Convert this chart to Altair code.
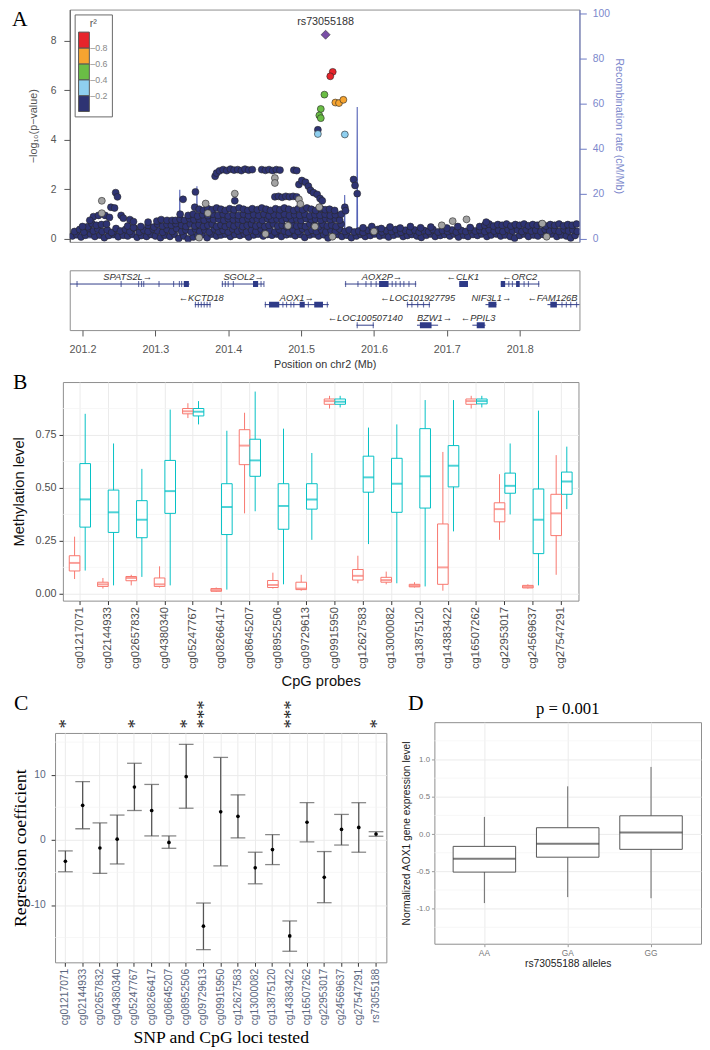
import altair as alt
import pandas as pd

SANS = "Liberation Sans"
SERIF = "Liberation Serif"

# ======================= Panel A : regional association =======================
navy_low = [(201.186,0.12),(201.192,0.18),(201.198,0.08),(201.204,0.15),(201.211,0.2),(201.217,0.1),(201.224,0.16),(201.230,0.05),(201.236,0.14),(201.243,0.19),(201.249,0.09),(201.256,0.15),(201.262,0.12),(201.268,0.2),(201.275,0.07),(201.281,0.14),(201.288,0.1),(201.294,0.18),(201.300,0.12),(201.307,0.05),(201.313,0.15),(201.320,0.1),(201.326,0.2),(201.332,0.02),(201.339,0.12),(201.345,0.0),(201.352,0.08),(201.358,0.15),(201.364,0.18),(201.371,0.05),(201.377,0.2),(201.384,0.12),(201.390,0.16),(201.396,0.2),(201.403,0.1),(201.409,0.18),(201.416,0.14),(201.422,0.2),(201.428,0.08),(201.435,0.16),(201.441,0.2),(201.448,0.12),(201.454,0.18),(201.460,0.15),(201.467,0.2),(201.473,0.1),(201.480,0.17),(201.486,0.2),(201.492,0.13),(201.499,0.18),(201.505,0.06),(201.512,0.16),(201.518,0.2),(201.524,0.12),(201.531,0.17),(201.537,0.04),(201.544,0.14),(201.550,0.18),(201.556,0.1),(201.563,0.15),(201.569,0.05),(201.576,0.12),(201.582,0.18),(201.588,0.1),(201.595,0.14),(201.601,0.2),(201.608,0.12),(201.614,0.16),(201.620,0.08),(201.627,0.15),(201.633,0.2),(201.640,0.1),(201.646,0.14),(201.652,0.18),(201.659,0.12),(201.665,0.06),(201.672,0.15),(201.678,0.2),(201.684,0.1),(201.691,0.14),(201.697,0.18),(201.704,0.12),(201.710,0.2),(201.716,0.08),(201.723,0.15),(201.729,0.1),(201.736,0.18),(201.742,0.14),(201.748,0.2),(201.755,0.1),(201.761,0.16),(201.768,0.2),(201.774,0.12),(201.780,0.16),(201.787,0.1),(201.793,0.03),(201.800,0.14),(201.806,0.2),(201.812,0.1),(201.819,0.16),(201.825,0.12),(201.832,0.18),(201.838,0.15),(201.844,0.2),(201.851,0.1),(201.857,0.16),(201.864,0.12),(201.870,0.04),(201.876,0.14)]

navy_mid = [(201.189,0.3),(201.196,0.38),(201.202,0.28),(201.209,0.42),(201.215,0.32),(201.221,0.4),(201.227,0.3),(201.234,0.36),(201.24,0.26),(201.246,0.42),(201.252,0.32),(201.259,0.38),(201.265,0.3),(201.271,0.44),(201.278,0.28),(201.284,0.36),(201.29,0.3),(201.297,0.4),(201.303,0.33),(201.31,0.27),(201.316,0.38),(201.323,0.3),(201.329,0.42),(201.336,0.3),(201.342,0.36),(201.349,0.28),(201.355,0.4),(201.361,0.3),(201.368,0.36),(201.374,0.28),(201.381,0.4),(201.387,0.3),(201.393,0.35),(201.4,0.28),(201.406,0.4),(201.413,0.32),(201.419,0.38),(201.425,0.28),(201.432,0.36),(201.438,0.3),(201.445,0.4),(201.451,0.3),(201.457,0.36),(201.464,0.28),(201.47,0.38),(201.477,0.32),(201.483,0.26),(201.489,0.36),(201.496,0.3),(201.502,0.4),(201.509,0.28),(201.515,0.35),(201.521,0.3),(201.528,0.38),(201.534,0.28),(201.541,0.35),(201.547,0.3),(201.553,0.4),(201.56,0.3),(201.566,0.36),(201.573,0.28),(201.579,0.32),(201.585,0.26),(201.592,0.35),(201.598,0.3),(201.605,0.38),(201.611,0.28),(201.617,0.34),(201.624,0.3),(201.63,0.38),(201.637,0.27),(201.643,0.35),(201.649,0.3),(201.656,0.36),(201.662,0.28),(201.669,0.34),(201.675,0.3),(201.681,0.38),(201.688,0.28),(201.694,0.34),(201.701,0.3),(201.707,0.36),(201.713,0.28),(201.72,0.34),(201.726,0.3),(201.733,0.38),(201.739,0.32),(201.745,0.36),(201.752,0.3),(201.758,0.38),(201.765,0.32),(201.771,0.36),(201.777,0.3),(201.784,0.38),(201.79,0.32),(201.797,0.36),(201.803,0.3),(201.809,0.38),(201.816,0.32),(201.822,0.36),(201.829,0.3),(201.835,0.38),(201.841,0.32),(201.848,0.36),(201.854,0.3),(201.861,0.38),(201.867,0.32),(201.873,0.36),(201.879,0.3)]

navy_upper = [(201.207,0.49),(201.213,0.62),(201.219,0.55),(201.2,0.5),(201.226,0.58),(201.233,0.6),(201.262,0.52),(201.27,0.46),(201.28,0.5),(201.29,0.55),(201.298,0.48),(201.303,0.6),(201.31,0.52),(201.316,0.58),(201.322,0.55),(201.328,0.62),
              (201.336,0.55),(201.342,0.5),(201.348,0.6),(201.354,0.52),(201.36,0.58),(201.366,0.5),(201.372,0.55),(201.378,0.6),(201.384,0.5),(201.39,0.56),(201.396,0.5),(201.402,0.58),(201.408,0.52),(201.414,0.6),(201.42,0.5),(201.426,0.55),(201.432,0.6),(201.438,0.52),(201.444,0.58),(201.45,0.5),(201.456,0.55),(201.462,0.6),(201.468,0.52),(201.474,0.56),(201.48,0.5),(201.488,0.58),(201.494,0.52),(201.5,0.56),(201.506,0.5),(201.512,0.6),(201.518,0.55),(201.524,0.5),(201.53,0.58),(201.536,0.52),(201.542,0.56),(201.548,0.5),(201.555,0.6),
              (201.585,0.45),(201.597,0.5),(201.61,0.42),(201.622,0.48),(201.636,0.44),(201.65,0.5),(201.664,0.45),(201.678,0.48),(201.7,0.44),(201.715,0.5),(201.732,0.46),(201.745,0.5),
              (201.752,0.55),(201.758,0.6),(201.764,0.52),(201.77,0.58),(201.776,0.55),(201.782,0.6),(201.788,0.52),(201.794,0.58),(201.8,0.55),(201.806,0.6),(201.812,0.53),(201.818,0.58),(201.824,0.55),(201.83,0.6),(201.836,0.52),(201.842,0.58),(201.848,0.55),(201.854,0.6),(201.86,0.53),(201.866,0.58),(201.872,0.55),(201.878,0.6),(201.754,0.68)]

navy_high = [(201.215,0.9),(201.222,0.95),(201.231,0.95),(201.237,0.87),(201.239,1.28),(201.244,1.25),(201.2455,1.87),(201.248,1.7),(201.253,0.95),(201.256,0.84),(201.265,0.78),(201.21,0.75),(201.27,0.7),(201.29,0.68),(201.302,0.72),(201.308,0.78),(201.316,0.75),(201.323,0.75),(201.328,0.75),
             (201.334,0.8),(201.34,0.75),(201.347,0.82),(201.353,0.78),(201.36,0.8),(201.367,0.76),(201.374,0.82),(201.38,0.78),(201.387,0.8),(201.394,0.75),(201.4,0.82),(201.407,0.78),(201.414,0.8),(201.42,0.76),(201.427,0.82),(201.434,0.78),(201.44,0.8),(201.447,0.75),(201.454,0.82),(201.46,0.78),(201.467,0.8),(201.474,0.76),(201.48,0.82),(201.487,0.78),(201.494,0.8),(201.5,0.75),(201.507,0.82),(201.514,0.78),(201.52,0.8),(201.527,0.76),(201.534,0.82),(201.54,0.78),(201.547,0.8),(201.553,0.76),
             (201.334,1.0),(201.345,0.95),(201.352,1.0),(201.358,0.92),(201.365,0.98),(201.372,0.94),(201.379,1.0),(201.386,0.95),(201.393,1.0),(201.4,0.93),(201.407,0.98),(201.414,0.95),(201.421,1.0),(201.428,0.94),(201.435,0.98),(201.442,0.95),(201.449,1.0),(201.456,0.93),(201.463,0.98),(201.47,0.95),(201.477,1.0),(201.484,0.94),(201.491,0.98),(201.498,0.95),(201.505,1.0),(201.512,0.93),(201.519,0.98),(201.526,0.95),(201.533,1.0),(201.54,0.94),(201.547,0.98),(201.555,1.0),
             (201.354,1.28),(201.36,1.2),(201.366,1.15),(201.372,1.22),(201.378,1.18),(201.384,1.25),(201.39,1.2),(201.396,1.15),(201.402,1.22),(201.408,1.18),(201.415,1.25),(201.421,1.2),(201.427,1.15),(201.433,1.22),(201.44,1.18),(201.446,1.25),(201.452,1.2),(201.458,1.15),(201.465,1.22),(201.471,1.18),(201.477,1.25),(201.483,1.2),(201.49,1.15),(201.496,1.22),(201.502,1.18),(201.508,1.25),(201.514,1.2),(201.52,1.15),(201.527,1.22),(201.533,1.18),(201.539,1.2),(201.546,1.15),(201.56,1.28),(201.561,1.14),
             (201.338,1.6),(201.355,1.9),(201.409,1.54),(201.382,2.53),(201.384,2.66),(201.388,2.75),(201.393,2.8),(201.398,2.76),(201.403,2.82),(201.408,2.78),(201.413,2.8),(201.418,2.76),(201.423,2.82),(201.428,2.78),(201.433,2.8),(201.446,2.8),(201.451,2.77),(201.456,2.8),(201.461,2.76),(201.466,2.8),(201.471,2.78),(201.49,2.78),(201.494,2.76),
             (201.464,1.7),(201.469,1.72),(201.474,1.68),(201.479,1.72),(201.484,1.7),(201.489,1.72),(201.494,1.7),(201.497,2.2),(201.501,2.36),(201.506,2.29),(201.51,2.13),(201.513,1.96),(201.517,1.87),(201.522,1.8),(201.526,1.63),(201.529,1.54),(201.572,2.4),(201.574,2.16),(201.577,1.83)]

grey_snps = [(201.2265,1.54),(201.2265,1.04),(201.369,1.43),(201.372,1.04),(201.409,1.83),(201.464,2.46),(201.464,2.26),(201.497,1.6),(201.499,1.41),(201.525,1.28),(201.482,0.53),(201.519,0.5),(201.543,0.09),(201.451,0.2),(201.693,0.55),(201.708,0.72),(201.727,0.79),(201.831,0.62),(201.837,0.09),(201.36,0.05),(201.6,0.3)]

ld_pos  = [201.523, 201.5434, 201.540, 201.532, 201.527, 201.525, 201.527, 201.547, 201.552, 201.558, 201.523, 201.560]
ld_logp = [4.41, 6.75, 6.57, 5.83, 5.25, 4.99, 4.88, 5.51, 5.49, 5.62, 4.24, 4.22]
ld_r2   = [0.15, 0.9, 0.9, 0.5, 0.5, 0.5, 0.5, 0.7, 0.7, 0.7, 0.3, 0.3]

lead_pos = [201.5336]
lead_logp = [8.25]
lead_name = ["rs73055188"]

recomb_pos  = [201.1825, 201.25, 201.333, 201.3335, 201.334, 201.3565, 201.357, 201.3575, 201.45, 201.5595, 201.5598, 201.5602, 201.5765, 201.577, 201.5775, 201.62, 201.75, 201.882]
recomb_rate = [0.4, 0.6, 0.8, 21.8, 0.8, 0.8, 23.4, 0.8, 0.9, 1.2, 19.5, 1.2, 1.5, 58.5, 2.5, 2.2, 2.0, 2.0]

r2_breaks = [0.2, 0.4, 0.6, 0.8]
r2_colors = ["#2E3373", "#8FCFEF", "#6ABD45", "#F6A430", "#E7242B"]

# ======================= gene track =======================
gene_name  = ["SPATS2L", "SGOL2", "AOX2P", "CLK1", "ORC2", "KCTD18", "AOX1", "LOC101927795", "NIF3L1", "FAM126B", "LOC100507140", "BZW1", "PPIL3"]
gene_start = [201.183, 201.391, 201.560, 201.717, 201.774, 201.354, 201.450, 201.645, 201.753, 201.838, 201.576, 201.659, 201.735]
gene_end   = [201.347, 201.449, 201.658, 201.729, 201.827, 201.376, 201.538, 201.677, 201.768, 201.886, 201.600, 201.688, 201.753]
gene_row   = [1, 1, 1, 1, 1, 2, 2, 2, 2, 2, 3, 3, 3]
gene_strand = ["+", "+", "+", "-", "-", "-", "+", "-", "+", "-", "-", "+", "-"]
gene_label_pos = [201.262, 201.421, 201.611, 201.722, 201.800, 201.363, 201.494, 201.660, 201.761, 201.845, 201.588, 201.683, 201.743]

exon_pos = [201.1925, 201.253, 201.277, 201.281, 201.284, 201.305, 201.325, 201.333, 201.336,
            201.392, 201.396, 201.400, 201.407, 201.445, 201.449,
            201.561, 201.578, 201.589, 201.596, 201.603, 201.625, 201.630, 201.636, 201.641, 201.648, 201.657,
            201.785, 201.790, 201.806, 201.812, 201.826,
            201.355, 201.359, 201.363, 201.367, 201.371, 201.375,
            201.451, 201.475, 201.480, 201.486, 201.490, 201.510, 201.536,
            201.646, 201.652, 201.660, 201.668, 201.676,
            201.858, 201.864, 201.870, 201.878,
            201.577, 201.599]
exon_row = [1]*9 + [1]*6 + [1]*11 + [1]*5 + [2]*6 + [2]*7 + [2]*5 + [2]*4 + [3]*2

block_start = [201.339, 201.434, 201.607, 201.717, 201.774, 201.795, 201.456, 201.498, 201.518, 201.757, 201.842, 201.663, 201.741]
block_end   = [201.346, 201.441, 201.620, 201.729, 201.780, 201.800, 201.470, 201.505, 201.530, 201.768, 201.851, 201.679, 201.752]
block_row   = [1, 1, 1, 1, 1, 1, 2, 2, 2, 2, 2, 3, 3]

# ======================= Panel B : methylation boxplots =======================
probes = ["cg01217071", "cg02144933", "cg02657832", "cg04380340", "cg05247767", "cg08266417", "cg08645207", "cg08952506", "cg09729613",
          "cg09915950", "cg12627583", "cg13000082", "cg13875120", "cg14383422", "cg16507262", "cg22953017", "cg24569637", "cg27547291"]
cell_types = ["Normal", "Tumor"]
normal_lo  = [0.07, 0.025, 0.04, 0.03, 0.83, 0.01, 0.38, 0.025, 0.015, 0.875, 0.05, 0.045, 0.03, 0.015, 0.875, 0.255, 0.025, 0.09]
normal_q1  = [0.108, 0.035, 0.062, 0.035, 0.85, 0.012, 0.61, 0.03, 0.02, 0.895, 0.065, 0.055, 0.033, 0.045, 0.895, 0.34, 0.028, 0.275]
normal_med = [0.146, 0.045, 0.075, 0.045, 0.862, 0.018, 0.70, 0.042, 0.025, 0.91, 0.085, 0.065, 0.038, 0.125, 0.91, 0.40, 0.033, 0.38]
normal_q3  = [0.18, 0.055, 0.082, 0.075, 0.875, 0.025, 0.775, 0.063, 0.055, 0.92, 0.115, 0.078, 0.045, 0.33, 0.92, 0.43, 0.04, 0.47]
normal_hi  = [0.27, 0.075, 0.09, 0.13, 0.90, 0.03, 0.855, 0.10, 0.09, 0.935, 0.18, 0.105, 0.055, 0.67, 0.935, 0.565, 0.045, 0.655]
tumor_lo   = [0.11, 0.04, 0.08, 0.04, 0.80, 0.02, 0.39, 0.045, 0.255, 0.88, 0.235, 0.05, 0.035, 0.295, 0.88, 0.375, 0.04, 0.40]
tumor_q1   = [0.315, 0.29, 0.265, 0.38, 0.84, 0.28, 0.555, 0.305, 0.40, 0.895, 0.48, 0.385, 0.405, 0.505, 0.897, 0.475, 0.19, 0.47]
tumor_med  = [0.446, 0.385, 0.35, 0.485, 0.86, 0.41, 0.63, 0.415, 0.445, 0.907, 0.55, 0.52, 0.555, 0.605, 0.91, 0.51, 0.35, 0.53]
tumor_q3   = [0.615, 0.49, 0.44, 0.63, 0.875, 0.52, 0.73, 0.52, 0.52, 0.92, 0.65, 0.64, 0.78, 0.70, 0.92, 0.57, 0.495, 0.575]
tumor_hi   = [0.85, 0.71, 0.59, 0.87, 0.91, 0.77, 0.955, 0.78, 0.665, 0.935, 0.785, 0.80, 0.915, 0.915, 0.935, 0.71, 0.865, 0.695]
b_minor = [0.125, 0.375, 0.625, 0.875]

# ======================= Panel C : regression coefficients =======================
c_loci = probes + ["rs73055188"]
c_est = [-3.3, 5.3, -1.25, 0.1, 8.1, 4.5, -0.4, 9.7, -13.25, 4.3, 3.6, -4.3, -1.5, -14.75, 2.7, -5.75, 1.6, 1.9, 0.9]
c_lo  = [-4.9, 1.7, -5.15, -3.7, 4.5, 0.6, -1.3, 4.85, -16.85, -4.0, 0.3, -6.75, -3.8, -17.1, -0.3, -9.65, -0.8, -1.9, 0.55]
c_hi  = [-1.7, 8.95, 2.6, 3.8, 11.75, 8.5, 0.6, 14.65, -9.7, 12.65, 6.9, -1.9, 0.8, -12.45, 5.7, -1.8, 3.9, 5.7, 1.25]
c_stars = ["*", "", "", "", "*", "", "", "*", "***", "", "", "", "", "***", "", "", "", "", "*"]
star_y = 17.1
c_minor = [-15, -5, 5, 15]

# ======================= Panel D : expression by genotype =======================
d_geno = ["AA", "GA", "GG"]
d_lo  = [-0.925, -0.845, -0.86]
d_q1  = [-0.51, -0.31, -0.205]
d_med = [-0.33, -0.13, 0.02]
d_q3  = [-0.165, 0.085, 0.245]
d_hi  = [0.23, 0.64, 0.90]
d_minor = [-1.25, -0.75, -0.25, 0.25, 0.75, 1.25]
d_title = "p = 0.001"
d_title_at = ("GA", 1.68)

X_DOMAIN = [201.1825, 201.882]
GRID = "#EBEBEB"
MINOR = "#F4F4F4"
INDEP = dict(fill="independent", stroke="independent", color="independent")


def letter(ch, dx, dy):
    return alt.Chart(alt.Data(values=[{"t": ch}])).mark_text(
        align="left", baseline="top", font=SERIF, fontSize=22, color="#000"
    ).encode(x=alt.value(dx), y=alt.value(dy), text="t:N")


def spacer():
    return alt.Chart(alt.Data(values=[{"s": 0}])).mark_point(opacity=0, size=1).encode(
        x=alt.value(0.5), y=alt.value(0.5)).properties(width=1, height=1,
                                                       view=alt.ViewBackground(stroke="transparent"))


def row(*charts):
    return alt.concat(spacer(), *charts, columns=len(charts) + 1, align="none", spacing=0).resolve_scale(**INDEP)


def col(chart):
    return alt.concat(spacer(), chart, columns=1, align="none", spacing=0).resolve_scale(**INDEP)


# ---------------- Panel A ----------------
navy_df = pd.DataFrame(navy_low + navy_mid + navy_upper + navy_high, columns=["pos", "logp"])
grey_df = pd.DataFrame(grey_snps, columns=["pos", "logp"])
ld_df = pd.DataFrame({"pos": ld_pos, "logp": ld_logp, "r2": ld_r2})
lead_df = pd.DataFrame({"pos": lead_pos, "logp": lead_logp, "name": lead_name})
rec_df = pd.DataFrame({"pos": recomb_pos, "rate": recomb_rate})

xA = alt.X("pos:Q", scale=alt.Scale(domain=X_DOMAIN, nice=False, zero=False), axis=None)
yA_scale = alt.Scale(domain=[-0.119, 9.267], nice=False, zero=False)
yA_axis = alt.Axis(title="−log₁₀(p−value)", values=[0, 2, 4, 6, 8], grid=False, tickSize=6, labelPadding=8,
                   labelFontSize=10.5, labelColor="#555", tickColor="#555", domainColor="#555",
                   titleFontSize=11, titleColor="#555", titleFontWeight="normal", titlePadding=12)
yN = alt.Y("logp:Q", scale=yA_scale, axis=yA_axis)
pt = dict(shape="circle", filled=True, size=50, stroke="#262626", strokeWidth=0.6, opacity=1, clip=True)

navy = alt.Chart(navy_df).mark_point(fill="#2E3373", **pt).encode(x=xA, y=yN)
grey = alt.Chart(grey_df).mark_point(fill="#A3A3A3", **pt).encode(x=xA, y=yN)
ld = alt.Chart(ld_df).mark_point(**pt).encode(
    x=xA, y=yN,
    fill=alt.Fill("r2:Q", scale=alt.Scale(type="threshold", domain=r2_breaks, range=r2_colors),
                  legend=alt.Legend(type="gradient", orient="top-left", offset=5, padding=4, title="r²",
                                    titleFontSize=11, titleFontWeight="normal", titleColor="#555",
                                    titleAnchor="middle", titlePadding=3, direction="vertical",
                                    gradientLength=81, gradientThickness=11, gradientStrokeColor="#555",
                                    gradientStrokeWidth=1, labelFontSize=9, labelColor="#888", labelOffset=1,
                                    labelExpr="(datum.label == null || datum.label == 'null') ? '' : '–' + datum.label",
                                    strokeColor="#666", fillColor="white")))
lead = alt.Chart(lead_df).mark_point(shape="diamond", filled=True, fill="#7A4FA6", stroke="#333",
                                     strokeWidth=0.6, size=85, opacity=1).encode(x=xA, y=yN)
lead_lab = alt.Chart(lead_df).mark_text(dy=-13, fontSize=11, color="#333").encode(x=xA, y=yN, text="name:N")

rec = alt.Chart(rec_df).mark_line(color="#5462B6", strokeWidth=1.1, clip=True).encode(
    x=xA,
    y=alt.Y("rate:Q", scale=alt.Scale(domain=[-1.3, 101.74], nice=False, zero=False),
            axis=alt.Axis(orient="right", title="Recombination rate (cM/Mb)", values=[0, 20, 40, 60, 80, 100],
                          grid=False, tickSize=7, labelPadding=6, labelFontSize=10.5, labelColor="#7C88CC",
                          tickColor="#6B78C4", domainColor="#6B78C4", titleFontSize=11, titleColor="#7C88CC",
                          titleFontWeight="normal", titlePadding=4)))

A = alt.layer(rec, alt.layer(navy, grey, ld, lead, lead_lab, letter("A", -59, 0))).resolve_scale(
    y="independent").properties(width=520, height=237)

# ---------------- gene track ----------------
gene_df = pd.DataFrame({"name": gene_name, "start": gene_start, "end": gene_end, "row": gene_row,
                        "strand": gene_strand, "lpos": gene_label_pos})
gene_df["label"] = [n + "→" if s == "+" else "←" + n for n, s in zip(gene_df["name"], gene_df["strand"])]
exon_df = pd.DataFrame({"pos": exon_pos, "row": exon_row})
block_df = pd.DataFrame({"start": block_start, "end": block_end, "row": block_row})

xG_scale = alt.Scale(domain=X_DOMAIN, nice=False, zero=False)
yG = alt.Y("row:Q", scale=alt.Scale(domain=[0.333, 3.238], reverse=True, nice=False, zero=False), axis=None)
gx_axis = alt.Axis(title="Position on chr2 (Mb)", values=[201.2, 201.3, 201.4, 201.5, 201.6, 201.7, 201.8],
                   format=".1f", grid=False, tickSize=6, labelPadding=8, labelFontSize=11, labelColor="#555",
                   tickColor="#555", domain=False, titleFontSize=11, titleColor="#333",
                   titleFontWeight="normal", titlePadding=4)
GENE = "#2E3A87"
glines = alt.Chart(gene_df).mark_rule(color=GENE, strokeWidth=1, clip=True).encode(
    x=alt.X("start:Q", scale=xG_scale, axis=gx_axis), x2="end:Q", y=yG)
gex = alt.Chart(exon_df).mark_tick(orient="vertical", size=6, thickness=1.2, color=GENE, clip=True).encode(
    x=alt.X("pos:Q", scale=xG_scale, axis=gx_axis), y=yG)
gblk = alt.Chart(block_df).mark_rule(color=GENE, strokeWidth=6, strokeCap="butt", clip=True).encode(
    x=alt.X("start:Q", scale=xG_scale, axis=gx_axis), x2="end:Q", y=yG)
glab = alt.Chart(gene_df).mark_text(fontStyle="italic", fontSize=9.5, color="#333", dy=-7).encode(
    x=alt.X("lpos:Q", scale=xG_scale, axis=gx_axis), y=yG, text="label:N")
G = alt.layer(glines, gex, gblk, glab).properties(width=520, height=61)

AG = alt.vconcat(A, G, spacing=24).resolve_scale(**INDEP)

# ---------------- Panel B ----------------
rowsB = []
for i, p in enumerate(probes):
    rowsB.append(dict(probe=p, type="Normal", lo=normal_lo[i], q1=normal_q1[i], med=normal_med[i], q3=normal_q3[i], hi=normal_hi[i]))
    rowsB.append(dict(probe=p, type="Tumor", lo=tumor_lo[i], q1=tumor_q1[i], med=tumor_med[i], q3=tumor_q3[i], hi=tumor_hi[i]))
dfB = pd.DataFrame(rowsB)
minB = pd.DataFrame({"v": b_minor})

xB_scale = alt.Scale(paddingInner=0, paddingOuter=0.1)
axB = alt.Axis(title="CpG probes", labelAngle=270, labelFontSize=11.5, labelColor="#4D4D4D", tickColor="#333",
               tickSize=4, labelPadding=2, grid=True, gridColor=GRID, domain=False, titleFontSize=15,
               titleColor="#111", titleFontWeight="normal", titlePadding=5)
xB = alt.X("probe:N", sort=probes, scale=xB_scale, axis=axB)
offB = alt.XOffset("type:N", scale=alt.Scale(domain=cell_types, paddingInner=0, paddingOuter=0.3333))
yB_scale = alt.Scale(domain=[-0.032, 1.0], nice=False, zero=False)
axBy = alt.Axis(title="Methylation level", values=[0, 0.25, 0.5, 0.75], format=".2f", labelFontSize=11,
                labelColor="#4D4D4D", tickColor="#333", tickSize=4, labelPadding=3, grid=True, gridColor=GRID,
                domain=False, titleFontSize=15, titleColor="#111", titleFontWeight="normal", titlePadding=9)
colB = alt.Scale(domain=cell_types, range=["#F8766D", "#00BFC4"])
box_symbol = "M-0.8,-0.45H0.8V0.45H-0.8Z M-0.8,0H0.8 M0,-0.45V-1 M0,0.45V1"
legB = alt.Legend(title="Cell_Type", orient="none", legendX=542, legendY=87,
                  titleFontSize=14.5, titleFontWeight="normal", titleColor="#111",
                  labelFontSize=11.5, labelColor="#111", symbolType=box_symbol,
                  symbolSize=190, symbolStrokeWidth=1, symbolOpacity=1,
                  rowPadding=3, titlePadding=4)

bminor = alt.Chart(minB).mark_rule(color=MINOR, strokeWidth=0.7).encode(y=alt.Y("v:Q", scale=yB_scale, axis=axBy))
bwhisk = alt.Chart(dfB).mark_rule(strokeWidth=1).encode(
    x=xB, xOffset=offB, y=alt.Y("lo:Q", scale=yB_scale, axis=axBy), y2="hi:Q",
    stroke=alt.Stroke("type:N", scale=colB, legend=None))
bbox = alt.Chart(dfB).mark_bar(fill="white", strokeWidth=1).encode(
    x=xB, xOffset=offB, y=alt.Y("q1:Q", scale=yB_scale, axis=axBy), y2="q3:Q",
    stroke=alt.Stroke("type:N", scale=colB, legend=None))
bmed = alt.Chart(dfB).mark_tick(thickness=2, size=10.8).encode(
    x=xB, xOffset=offB, y=alt.Y("med:Q", scale=yB_scale, axis=axBy),
    fill=alt.Fill("type:N", scale=colB, legend=None))
bkey = alt.Chart(dfB).mark_point(filled=False, opacity=0).encode(
    x=xB, xOffset=offB, y=alt.Y("med:Q", scale=yB_scale, axis=axBy),
    color=alt.Color("type:N", scale=colB, legend=legB))
B = alt.layer(bminor, bwhisk, bbox, bmed, bkey, letter("B", -51, -10)).properties(width=526, height=223)

# ---------------- Panel C ----------------
dfC = pd.DataFrame({"locus": c_loci, "est": c_est, "lo": c_lo, "hi": c_hi, "star": c_stars})
dfC["sy"] = star_y
starsC = dfC[dfC["star"] != ""]
minC = pd.DataFrame({"v": c_minor})
CLAB = "#5B6780"
xC_scale = alt.Scale(paddingInner=0, paddingOuter=0.1)
axC = alt.Axis(title="SNP and CpG loci tested", labelAngle=270, labelFontSize=10.5, labelColor=CLAB,
               tickColor="#333", tickSize=4, labelPadding=2, grid=True, gridColor=GRID, domain=False,
               titleFont=SERIF, titleFontSize=18, titleColor="#000", titleFontWeight="normal", titlePadding=4)
xC = alt.X("locus:N", sort=c_loci, scale=xC_scale, axis=axC)
yC_scale = alt.Scale(domain=[-18.8, 16.4], nice=False, zero=False)
axCy = alt.Axis(title="Regression coefficient", values=[-10, 0, 10], labelFontSize=10.5, labelColor=CLAB,
                labelExpr="replace(datum.label, '−', '-')", tickColor="#333", tickSize=4, labelPadding=6,
                grid=True, gridColor=GRID, domain=False, titleFont=SERIF, titleFontSize=18, titleColor="#000",
                titleFontWeight="normal", titlePadding=1)

cminor = alt.Chart(minC).mark_rule(color=MINOR, strokeWidth=0.7).encode(y=alt.Y("v:Q", scale=yC_scale, axis=axCy))
cbar = alt.Chart(dfC).mark_rule(color="#555", strokeWidth=1.3).encode(
    x=xC, y=alt.Y("lo:Q", scale=yC_scale, axis=axCy), y2="hi:Q")
ccap_lo = alt.Chart(dfC).mark_tick(color="#555", size=15, thickness=1.3).encode(
    x=xC, y=alt.Y("lo:Q", scale=yC_scale, axis=axCy))
ccap_hi = alt.Chart(dfC).mark_tick(color="#555", size=15, thickness=1.3).encode(
    x=xC, y=alt.Y("hi:Q", scale=yC_scale, axis=axCy))
cpt = alt.Chart(dfC).mark_point(filled=True, size=14, color="#000", opacity=1).encode(
    x=xC, y=alt.Y("est:Q", scale=yC_scale, axis=axCy))
cstar = alt.Chart(starsC).mark_text(angle=270, align="left", baseline="middle", font=SERIF, fontSize=19,
                                    color="#222", dy=1).encode(
    x=xC, y=alt.Y("sy:Q", scale=yC_scale, axis=axCy), text="star:N")
C = alt.layer(cminor, cbar, ccap_lo, ccap_hi, cpt, cstar, letter("C", -42, -40)).properties(width=338, height=234)

# ---------------- Panel D ----------------
dfD = pd.DataFrame({"geno": d_geno, "lo": d_lo, "q1": d_q1, "med": d_med, "q3": d_q3, "hi": d_hi})
minD = pd.DataFrame({"v": d_minor})
titleD = pd.DataFrame({"geno": [d_title_at[0]], "ty": [d_title_at[1]], "t": [d_title]})
xD_scale = alt.Scale(paddingInner=0.25, paddingOuter=0.225)
axD = alt.Axis(title="rs73055188 alleles", labelAngle=0, labelFontSize=8.5, labelColor="#777", tickColor="#999",
               tickSize=3, labelPadding=2, grid=True, gridColor=GRID, domain=False, titleFontSize=10.5,
               titleColor="#222", titleFontWeight="normal", titlePadding=2)
xD = alt.X("geno:N", sort=d_geno, scale=xD_scale, axis=axD)
yD_scale = alt.Scale(domain=[-1.47, 1.5], nice=False, zero=False)
axDy = alt.Axis(title="Normalized AOX1 gene expression level", values=[-1, -0.5, 0, 0.5, 1], format=".1f",
                labelExpr="replace(datum.label, '−', '-')", labelFontSize=8, labelColor="#777",
                tickColor="#999", tickSize=3, labelPadding=2, grid=True, gridColor=GRID, domain=False,
                titleFontSize=10.5, titleColor="#222", titleFontWeight="normal", titlePadding=5)

dminor = alt.Chart(minD).mark_rule(color=MINOR, strokeWidth=0.7).encode(y=alt.Y("v:Q", scale=yD_scale, axis=axDy))
dwhisk = alt.Chart(dfD).mark_rule(color="#666", strokeWidth=1).encode(
    x=xD, y=alt.Y("lo:Q", scale=yD_scale, axis=axDy), y2="hi:Q")
dbox = alt.Chart(dfD).mark_bar(fill="white", stroke="#555", strokeWidth=1).encode(
    x=xD, y=alt.Y("q1:Q", scale=yD_scale, axis=axDy), y2="q3:Q")
dmed = alt.Chart(dfD).mark_tick(color="#444", thickness=2, size=64).encode(
    x=xD, y=alt.Y("med:Q", scale=yD_scale, axis=axDy))
dtitle = alt.Chart(titleD).mark_text(font=SERIF, fontSize=17, color="#000", baseline="middle").encode(
    x=xD, y=alt.Y("ty:Q", scale=yD_scale, axis=axDy), text="t:N")
D = alt.layer(dminor, dwhisk, dbox, dmed, dtitle, letter("D", -27, -29)).properties(width=272, height=226)

CD = alt.concat(col(C), col(D), columns=2, align="none", spacing=13).resolve_scale(**INDEP)

chart = alt.concat(row(AG), row(B), row(CD), columns=1, align="none", spacing=0).resolve_scale(
    **INDEP).properties(padding={"left": 0, "top": -11, "right": 0, "bottom": 0}).configure(
    font=SANS).configure_view(stroke="#8C8C8C", strokeWidth=1)

chart.save("out.html", embed_options={"renderer": "svg", "actions": False})
